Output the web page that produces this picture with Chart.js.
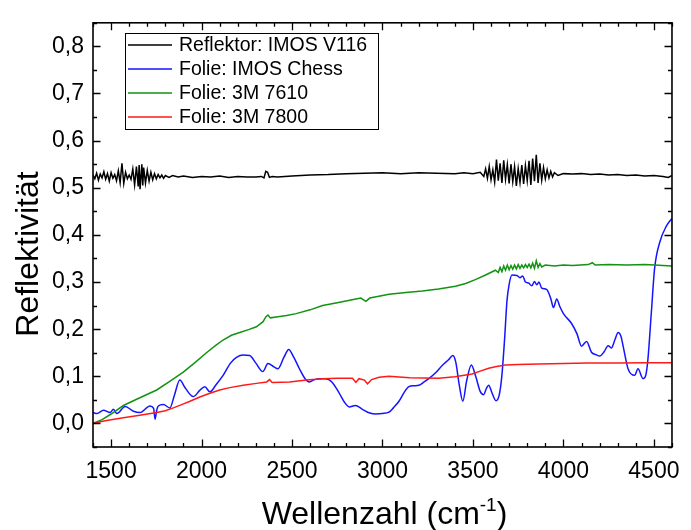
<!DOCTYPE html>
<html>
<head>
<meta charset="utf-8">
<script src="https://cdn.jsdelivr.net/npm/chart.js@4.4.0/dist/chart.umd.min.js"></script>
<style>
  html, body { margin: 0; padding: 0; background: #fff; }
</style>
</head>
<body>
<canvas id="chart" width="691" height="530"></canvas>
<script>
// ─── Data ───────────────────────────────────────────────────────────
const seriesLabels = ["Reflektor: IMOS V116", "Folie: IMOS Chess", "Folie: 3M 7610", "Folie: 3M 7800"];
const seriesColors = ["#000000", "#1414ff", "#139313", "#ff1a1a"];

const xTicks = [1500, 2000, 2500, 3000, 3500, 4000, 4500];
const yTicks = [0, 0.1, 0.2, 0.3, 0.4, 0.5, 0.6, 0.7, 0.8];

// Reflektor: IMOS V116
const reflX = [
  1400, 1410, 1420, 1430, 1440, 1450, 1460, 1470, 1480, 1490, 1500, 1510, 1520, 1530, 1540,
  1550, 1560, 1570, 1580, 1590, 1600, 1610, 1620, 1630, 1640, 1650, 1655, 1660, 1670, 1675,
  1680, 1690, 1700, 1710, 1720, 1730, 1740, 1750, 1760, 1770, 1780, 1790, 1800, 1820, 1840,
  1870, 1900, 1950, 2000, 2050, 2100, 2150, 2200, 2250, 2300, 2330, 2345, 2355, 2365, 2375,
  2390, 2420, 2500, 2600, 2700, 2800, 2900, 3000, 3100, 3200, 3300, 3400, 3450, 3500, 3540,
  3560, 3570, 3580, 3590, 3600, 3610, 3620, 3630, 3640, 3650, 3660, 3670, 3680, 3690, 3700,
  3710, 3720, 3730, 3740, 3750, 3760, 3770, 3780, 3790, 3800, 3810, 3820, 3830, 3840, 3850,
  3860, 3870, 3880, 3890, 3900, 3910, 3920, 3930, 3940, 3950, 3970, 4000, 4050, 4100, 4150,
  4200, 4250, 4300, 4350, 4400, 4450, 4500, 4550, 4580, 4600
];
const reflY = [
  0.527, 0.519, 0.531, 0.516, 0.529, 0.521, 0.534, 0.518, 0.530, 0.514, 0.532, 0.520, 0.528, 0.515, 0.536,
  0.511, 0.552, 0.509, 0.533, 0.519, 0.527, 0.518, 0.540, 0.506, 0.545, 0.503, 0.548, 0.497, 0.550, 0.505,
  0.543, 0.510, 0.537, 0.514, 0.533, 0.517, 0.530, 0.519, 0.528, 0.521, 0.527, 0.520, 0.526, 0.522, 0.526,
  0.523, 0.525, 0.522, 0.524, 0.523, 0.525, 0.522, 0.524, 0.523, 0.523, 0.524, 0.521, 0.535, 0.533, 0.522,
  0.524, 0.523, 0.525, 0.527, 0.528, 0.530, 0.531, 0.532, 0.530, 0.532, 0.531, 0.530, 0.532, 0.530, 0.533,
  0.524, 0.540, 0.520, 0.545, 0.517, 0.538, 0.512, 0.560, 0.515, 0.552, 0.510, 0.558, 0.518, 0.549, 0.509,
  0.550, 0.513, 0.545, 0.504, 0.541, 0.511, 0.548, 0.508, 0.547, 0.515, 0.557, 0.506, 0.562, 0.514, 0.570,
  0.510, 0.552, 0.516, 0.543, 0.519, 0.538, 0.521, 0.535, 0.523, 0.532, 0.526, 0.530, 0.529, 0.530, 0.528,
  0.529, 0.527, 0.528, 0.526, 0.527, 0.525, 0.526, 0.524, 0.522, 0.526
];

// Folie: IMOS Chess
const chessX = [
  1400, 1422, 1458, 1495, 1513, 1532, 1578, 1623, 1660, 1715, 1735, 1743, 1752, 1761, 1789,
  1825, 1850, 1880, 1910, 1954, 1990, 2018, 2046, 2080, 2119, 2160, 2193, 2230, 2266, 2300,
  2339, 2367, 2400, 2422, 2455, 2482, 2510, 2541, 2570, 2596, 2625, 2651, 2688, 2720, 2760,
  2790, 2816, 2850, 2889, 2930, 2963, 3000, 3036, 3060, 3091, 3120, 3146, 3175, 3201, 3230,
  3256, 3295, 3330, 3365, 3389, 3405, 3425, 3444, 3465, 3491, 3515, 3540, 3559, 3575, 3587,
  3605, 3627, 3645, 3660, 3675, 3688, 3700, 3715, 3743, 3760, 3775, 3790, 3807, 3825, 3840,
  3853, 3865, 3880, 3908, 3930, 3945, 3963, 3980, 4000, 4045, 4075, 4100, 4128, 4155, 4180,
  4201, 4225, 4247, 4265, 4285, 4302, 4318, 4330, 4357, 4394, 4412, 4440, 4455, 4467, 4485,
  4504, 4532, 4568, 4600
];
const chessY = [
  0.023, 0.021, 0.028, 0.023, 0.030, 0.021, 0.036, 0.026, 0.023, 0.037, 0.032, 0.009, 0.028, 0.037, 0.040,
  0.033, 0.060, 0.092, 0.075, 0.057, 0.070, 0.078, 0.067, 0.082, 0.102, 0.128, 0.140, 0.145, 0.144, 0.128,
  0.110, 0.127, 0.120, 0.116, 0.140, 0.157, 0.140, 0.116, 0.096, 0.088, 0.093, 0.095, 0.095, 0.088, 0.065,
  0.045, 0.035, 0.038, 0.030, 0.022, 0.020, 0.021, 0.024, 0.033, 0.047, 0.066, 0.078, 0.080, 0.081, 0.088,
  0.095, 0.108, 0.123, 0.135, 0.144, 0.130, 0.080, 0.047, 0.090, 0.124, 0.100, 0.068, 0.061, 0.075, 0.081,
  0.065, 0.048, 0.060, 0.102, 0.180, 0.260, 0.295, 0.315, 0.314, 0.309, 0.313, 0.300, 0.298, 0.292, 0.301,
  0.294, 0.300, 0.287, 0.284, 0.265, 0.246, 0.264, 0.248, 0.233, 0.212, 0.190, 0.164, 0.174, 0.151, 0.146,
  0.143, 0.152, 0.165, 0.160, 0.178, 0.193, 0.185, 0.164, 0.116, 0.102, 0.116, 0.095, 0.102, 0.136, 0.230,
  0.329, 0.384, 0.418, 0.435
];

// Folie: 3M 7610
const m7610X = [
  1400, 1450, 1500, 1568, 1650, 1752, 1820, 1899, 1960, 2027, 2080, 2119, 2165, 2211, 2260,
  2303, 2340, 2355, 2367, 2380, 2413, 2470, 2523, 2600, 2669, 2750, 2853, 2880, 2908, 2930,
  2980, 3036, 3130, 3220, 3310, 3403, 3460, 3513, 3570, 3624, 3640, 3650, 3660, 3670, 3680,
  3690, 3700, 3710, 3720, 3730, 3740, 3750, 3760, 3770, 3780, 3790, 3800, 3810, 3820, 3830,
  3840, 3850, 3860, 3870, 3880, 3900, 3950, 4000, 4050, 4137, 4160, 4175, 4250, 4350, 4450,
  4504, 4550, 4600
];
const m7610Y = [
  0.000, 0.008, 0.020, 0.038, 0.053, 0.071, 0.088, 0.109, 0.128, 0.150, 0.166, 0.177, 0.187, 0.193, 0.199,
  0.205, 0.216, 0.226, 0.230, 0.224, 0.226, 0.229, 0.233, 0.241, 0.250, 0.256, 0.264, 0.266, 0.259, 0.266,
  0.270, 0.274, 0.278, 0.281, 0.285, 0.291, 0.297, 0.305, 0.315, 0.325, 0.320, 0.331, 0.322, 0.334, 0.325,
  0.336, 0.326, 0.335, 0.327, 0.336, 0.328, 0.337, 0.329, 0.336, 0.330, 0.337, 0.331, 0.338, 0.330, 0.340,
  0.329, 0.345, 0.331, 0.339, 0.332, 0.336, 0.334, 0.336, 0.335, 0.337, 0.341, 0.336, 0.337, 0.336, 0.337,
  0.336, 0.335, 0.334
];

// Folie: 3M 7800
const m7800X = [
  1400, 1460, 1500, 1568, 1650, 1752, 1800, 1844, 1890, 1936, 1990, 2046, 2100, 2156, 2230,
  2303, 2360, 2376, 2390, 2486, 2580, 2669, 2750, 2834, 2853, 2870, 2900, 2917, 2940, 2981,
  3036, 3150, 3311, 3400, 3495, 3540, 3587, 3630, 3679, 3750, 3862, 4000, 4137, 4300, 4450,
  4600
];
const m7800Y = [
  0.000, 0.005, 0.008, 0.012, 0.017, 0.023, 0.027, 0.033, 0.040, 0.047, 0.056, 0.064, 0.071, 0.076, 0.081,
  0.085, 0.088, 0.093, 0.087, 0.088, 0.092, 0.095, 0.096, 0.096, 0.087, 0.095, 0.092, 0.084, 0.093, 0.098,
  0.100, 0.097, 0.096, 0.099, 0.105, 0.111, 0.117, 0.121, 0.124, 0.125, 0.126, 0.127, 0.128, 0.128, 0.129,
  0.129
];
// ────────────────────────────────────────────────────────────────────

const FONT = "'Liberation Sans', Arial, sans-serif";
const toPoints = (xs, ys) => xs.map((x, i) => ({ x: x, y: ys[i] }));

// frame + inward ticks on all four sides (Origin style)
const FramePlugin = {
    id: "frame",
    afterDraw(chart) {
        const { ctx, chartArea: a } = chart;
        const xs = chart.scales.x;
        const ys = chart.scales.y;
        const major = 7.5;
        const minor = 4;
        ctx.save();
        ctx.strokeStyle = "#000";
        ctx.lineWidth = 1.6;
        ctx.strokeRect(a.left, a.top, a.right - a.left, a.bottom - a.top);

        ctx.lineWidth = 1.3;
        ctx.beginPath();
        for (let v = 1400; v <= 4600; v += 100) {
            const px = Math.round(xs.getPixelForValue(v)) + 0.5;
            const len = v % 500 === 0 ? major : minor;
            ctx.moveTo(px, a.bottom); ctx.lineTo(px, a.bottom - len);
            ctx.moveTo(px, a.top); ctx.lineTo(px, a.top + len);
        }
        for (let i = -1; i <= 17; i++) {
            const v = i * 0.05;
            const py = Math.round(ys.getPixelForValue(v)) + 0.5;
            const len = i % 2 === 0 ? major : minor;
            ctx.moveTo(a.left, py); ctx.lineTo(a.left + len, py);
            ctx.moveTo(a.right, py); ctx.lineTo(a.right - len, py);
        }
        ctx.stroke();
        ctx.restore();
    },
};

// legend box inside the plot, upper left
const LegendBoxPlugin = {
    id: "legendBox",
    afterDraw(chart) {
        const { ctx } = chart;
        const box = { left: 125, top: 33, right: 378, bottom: 129 };
        ctx.save();
        ctx.fillStyle = "#fff";
        ctx.fillRect(box.left, box.top, box.right - box.left, box.bottom - box.top);
        ctx.strokeStyle = "#000";
        ctx.lineWidth = 1;
        ctx.strokeRect(box.left + 0.5, box.top + 0.5, box.right - box.left, box.bottom - box.top);

        ctx.font = "19.5px " + FONT;
        ctx.textBaseline = "middle";
        ctx.textAlign = "left";
        chart.data.datasets.forEach((ds, i) => {
            const y = 45 + i * 24;
            ctx.strokeStyle = ds.borderColor;
            ctx.lineWidth = 1.6;
            ctx.beginPath();
            ctx.moveTo(128, y);
            ctx.lineTo(172, y);
            ctx.stroke();
            ctx.fillStyle = "#000";
            ctx.fillText(ds.label, 179, y + 1);
        });
        ctx.restore();
    },
};

// axis titles (x title needs a superscript)
const AxisTitlePlugin = {
    id: "axisTitles",
    afterDraw(chart) {
        const { ctx, chartArea: a } = chart;
        ctx.save();
        ctx.fillStyle = "#000";
        ctx.textBaseline = "alphabetic";

        const big = "32px " + FONT;
        const small = "19px " + FONT;
        const p1 = "Wellenzahl (cm";
        const p2 = "-1";
        const p3 = ")";
        ctx.font = big;
        const w1 = ctx.measureText(p1).width;
        const w3 = ctx.measureText(p3).width;
        ctx.font = small;
        const w2 = ctx.measureText(p2).width;
        const total = w1 + w2 + w3;
        let x = (a.left + a.right) / 2 - total / 2 + 2;
        const base = 524;
        ctx.textAlign = "left";
        ctx.font = big;
        ctx.fillText(p1, x, base);
        ctx.font = small;
        ctx.fillText(p2, x + w1, base - 13);
        ctx.font = big;
        ctx.fillText(p3, x + w1 + w2, base);

        ctx.translate(38, 254);
        ctx.rotate(-Math.PI / 2);
        ctx.textAlign = "center";
        ctx.font = big;
        ctx.fillText("Reflektivität", 0, 0);
        ctx.restore();
    },
};

Chart.register(FramePlugin, LegendBoxPlugin, AxisTitlePlugin);
Chart.defaults.color = "#000";
Chart.defaults.font.family = FONT;

const allX = [reflX, chessX, m7610X, m7800X];
const allY = [reflY, chessY, m7610Y, m7800Y];

new Chart(document.getElementById("chart"), {
    type: "line",
    data: {
        datasets: seriesLabels.map((label, i) => ({
            label: label,
            data: toPoints(allX[i], allY[i]),
            borderColor: seriesColors[i],
            borderWidth: 1.5,
            pointRadius: 0,
            tension: 0,
            // the Chess spectrum is smooth, so let it curve
            cubicInterpolationMode: i === 1 ? "monotone" : "default",
            fill: false,
            order: 3 - i,
        })),
    },
    options: {
        responsive: false,
        animation: false,
        events: [],
        layout: { padding: { top: 13, right: 17, left: 0, bottom: 0 } },
        plugins: {
            legend: { display: false },
            tooltip: { enabled: false },
        },
        scales: {
            x: {
                type: "linear",
                min: 1400,
                max: 4600,
                grid: { display: false, drawTicks: false },
                border: { display: false },
                afterBuildTicks: s => { s.ticks = xTicks.map(v => ({ value: v })); },
                afterFit: s => { s.height = 83; },
                ticks: {
                    font: { size: 23 },
                    padding: 11,
                    maxRotation: 0,
                    autoSkip: false,
                    callback: v => String(v),
                },
            },
            y: {
                type: "linear",
                min: -0.05,
                max: 0.85,
                grid: { display: false, drawTicks: false },
                border: { display: false },
                afterBuildTicks: s => { s.ticks = yTicks.map(v => ({ value: v })); },
                afterFit: s => { s.width = 93; },
                ticks: {
                    font: { size: 23 },
                    padding: 9,
                    autoSkip: false,
                    callback: v => v.toFixed(1).replace(".", ","),
                },
            },
        },
    },
});
</script>
</body>
</html>
